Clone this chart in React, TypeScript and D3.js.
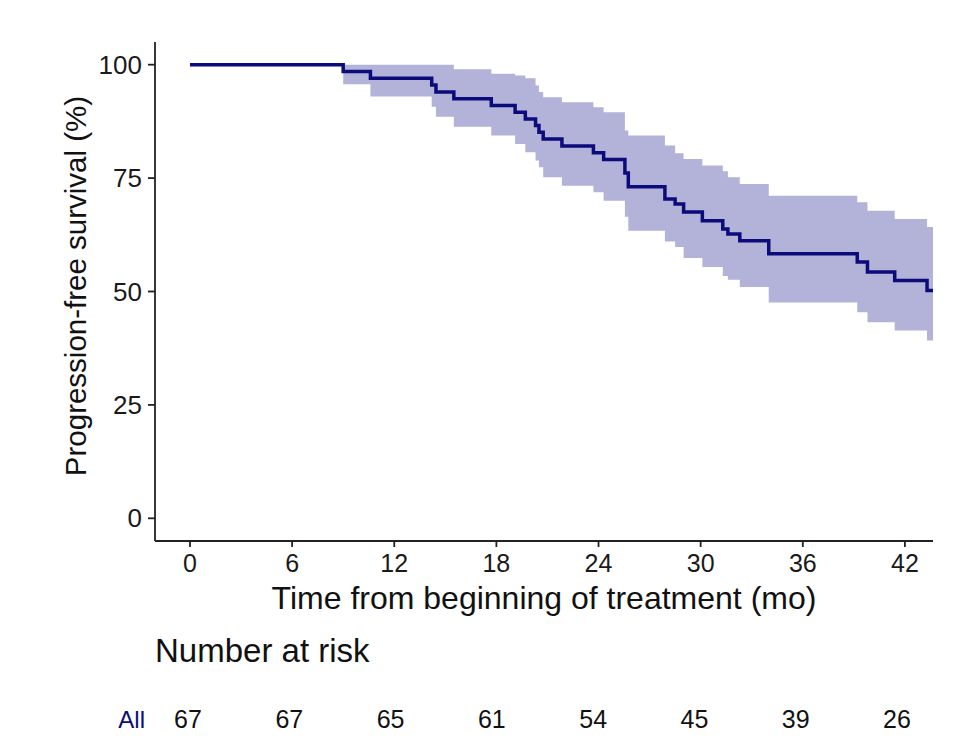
import React from "react";
import * as d3 from "d3";

const times = [0, 9.0, 10.6, 14.2, 14.45, 15.5, 17.7, 19.1, 19.7, 20.3, 20.5, 20.75, 21.85, 23.7, 24.3, 25.55, 25.75, 27.9, 28.5, 29.0, 30.1, 31.3, 31.6, 32.3, 34.0, 39.2, 39.8, 41.4, 43.3, 43.65];
const surv = [100, 98.5, 97.0, 95.5, 94.0, 92.5, 91.0, 89.5, 88.0, 86.6, 85.1, 83.6, 82.1, 80.6, 79.1, 76.1, 73.1, 70.4, 69.3, 67.5, 65.6, 63.8, 62.7, 61.2, 58.3, 56.5, 54.3, 52.4, 50.2, 50.2];
const upper = [100, 100, 100, 100, 100, 99.0, 98.0, 97.6, 97.0, 95.4, 94.0, 92.8, 91.7, 90.6, 89.5, 85.5, 84.4, 82.2, 80.5, 79.2, 77.8, 76.5, 75.2, 73.7, 71.1, 69.7, 67.8, 66.0, 64.2, 64.2];
const lower = [100, 95.7, 93.0, 90.7, 88.5, 86.3, 84.4, 82.5, 80.7, 78.9, 77.4, 75.2, 73.3, 71.9, 70.0, 66.5, 63.4, 61.0, 59.8, 57.4, 55.4, 53.4, 52.6, 51.0, 47.6, 45.4, 43.2, 41.4, 39.2, 39.2];

const xTicks = [0, 6, 12, 18, 24, 30, 36, 42];
const yTicks = [0, 25, 50, 75, 100];
const riskTimes = [0, 6, 12, 18, 24, 30, 36, 42];
const riskCounts = [67, 67, 65, 61, 54, 45, 39, 26];
const riskGroup = "All";

const FONT = "'Liberation Sans', Arial, Helvetica, sans-serif";
const NAVY = "#0b0b7a";

export default function App() {
  const x = d3.scaleLinear().domain([-2.056, 43.65]).range([155, 933]);
  const y = d3.scaleLinear().domain([-5, 105]).range([541, 42]);
  const xr = d3.scaleLinear().domain([0, 42]).range([188, 897]);

  const pts = times.map((t, i) => ({ t, s: surv[i], u: upper[i], l: lower[i] }));
  const line = d3.line<any>().x(d => x(d.t)).y(d => y(d.s)).curve(d3.curveStepAfter);
  const area = d3.area<any>().x(d => x(d.t)).y0(d => y(d.l)).y1(d => y(d.u)).curve(d3.curveStepAfter);

  const [x0, x1] = x.range();
  const [yb, yt] = y.range();

  return (
    <svg width={972} height={748} style={{ position: "absolute", left: 0, top: 0, background: "#fff" }} fontFamily={FONT}>
      <rect width={972} height={748} fill="#fff" />
      <path d={area(pts) || ""} fill="#b3b3da" stroke="none" />
      <path d={line(pts) || ""} fill="none" stroke={NAVY} strokeWidth={3.5} />

      {/* axes */}
      <line x1={x0} x2={x0} y1={yt} y2={yb} stroke="#222" strokeWidth={1.8} />
      <line x1={x0} x2={x1} y1={yb} y2={yb} stroke="#222" strokeWidth={1.8} />
      {yTicks.map(v => (
        <g key={"y" + v}>
          <line x1={x0 - 7} x2={x0} y1={y(v)} y2={y(v)} stroke="#222" strokeWidth={1.8} />
          <text x={x0 - 13} y={y(v) + 9} textAnchor="end" fontSize={26} fill="#1a1a1a">{v}</text>
        </g>
      ))}
      {xTicks.map(v => (
        <g key={"x" + v}>
          <line x1={x(v)} x2={x(v)} y1={yb} y2={yb + 6} stroke="#222" strokeWidth={1.8} />
          <text x={x(v)} y={572} textAnchor="middle" fontSize={25} fill="#1a1a1a">{v}</text>
        </g>
      ))}
      <text x={(x0 + x1) / 2} y={609} textAnchor="middle" fontSize={32} fill="#111">Time from beginning of treatment (mo)</text>
      <text transform={`translate(86, 286) rotate(-90)`} textAnchor="middle" fontSize={29.5} fill="#111">Progression-free survival (%)</text>

      {/* risk table */}
      <text x={155} y={662} fontSize={33} fill="#111">Number at risk</text>
      <text x={145} y={728} textAnchor="end" fontSize={24} fill={NAVY}>{riskGroup}</text>
      {riskTimes.map((t, i) => (
        <text key={"r" + t} x={xr(t)} y={728} textAnchor="middle" fontSize={25} fill="#111">{riskCounts[i]}</text>
      ))}
    </svg>
  );
}
